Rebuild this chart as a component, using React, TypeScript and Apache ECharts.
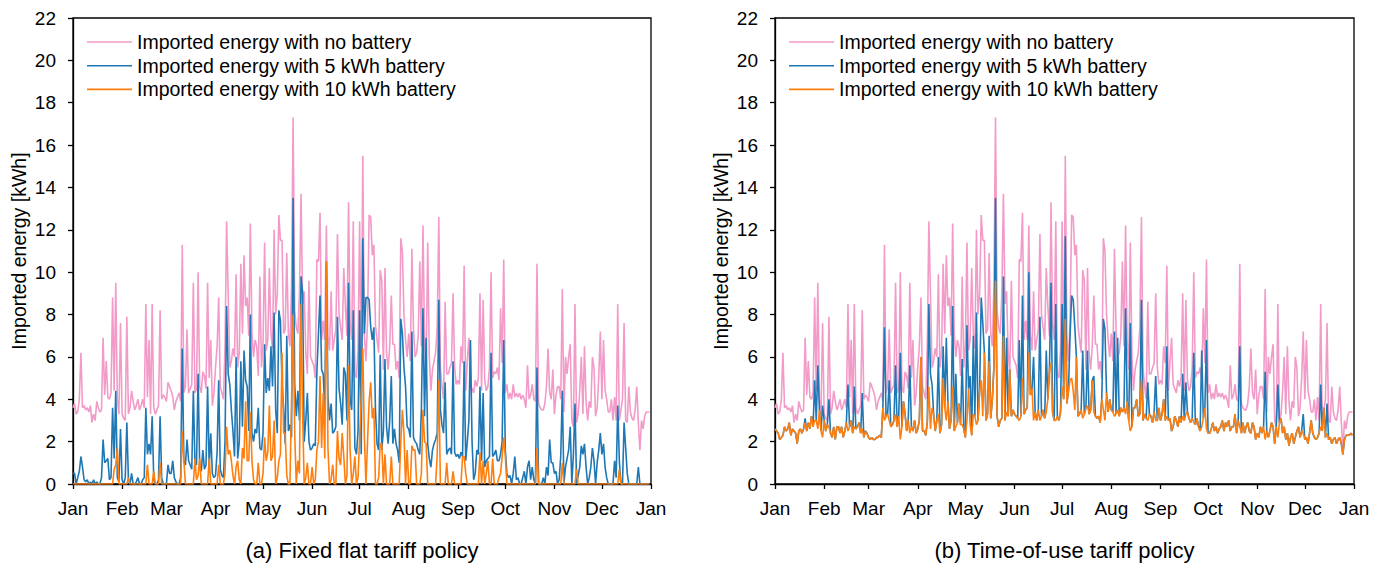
import React, { useEffect, useRef } from "react";
import * as echarts from "echarts";

const monthLabels = ["Jan", "Feb", "Mar", "Apr", "May", "Jun", "Jul", "Aug", "Sep", "Oct", "Nov", "Dec", "Jan"];
const monthStartDays = [0, 31, 59, 90, 120, 151, 181, 212, 243, 273, 304, 334, 365];
const seriesNames = [
  "Imported energy with no battery",
  "Imported energy with 5 kWh battery",
  "Imported energy with 10 kWh battery",
];
const panelTitles = ["(a) Fixed flat tariff policy", "(b) Time-of-use tariff policy"];
const yAxisName = "Imported energy [kWh]";

// Daily imported energy [kWh], day 0 = 1 Jan
const noBattery = [
  3.6,
  3.8, 3.3, 3.4, 4.0, 6.2, 3.6, 3.7, 3.5, 3.6, 3.4,
  3.7, 2.9, 3.3, 3.0, 3.9, 3.6, 3.4, 3.5, 6.9, 4.2,
  5.8, 4.1, 4.0, 4.3, 8.8, 4.4, 9.5, 4.0, 3.3, 7.6,
  3.3, 3.1, 3.0, 7.9, 3.3, 3.6, 4.4, 3.9, 3.5, 3.7,
  4.0, 3.5, 3.7, 4.0, 3.6, 8.5, 4.1, 6.8, 3.3, 8.5,
  3.6, 3.3, 3.5, 3.7, 8.2, 4.0, 4.2, 4.1, 3.9, 4.8,
  4.6, 4.4, 4.1, 3.5, 3.9, 4.1, 4.3, 3.9, 11.3, 4.3,
  4.6, 7.3, 4.3, 4.5, 4.7, 9.5, 4.3, 4.5, 10.0, 4.6,
  4.3, 5.3, 5.1, 4.5, 9.5, 5.0, 6.8, 3.7, 4.3, 5.5,
  6.5, 8.8, 4.6, 4.3, 4.0, 6.5, 12.4, 9.0, 5.5, 5.8,
  6.4, 6.0, 9.9, 5.5, 6.2, 10.4, 7.1, 10.8, 8.4, 8.8,
  7.0, 12.3, 7.1, 6.0, 6.8, 6.5, 5.1, 9.8, 5.5, 6.6,
  11.4, 6.3, 6.8, 10.2, 7.1, 6.4, 12.0, 8.0, 9.0, 12.7,
  11.5, 11.5, 7.1, 7.3, 10.9, 7.1, 6.5, 9.3, 17.3, 8.2,
  7.4, 7.1, 9.0, 13.7, 8.5, 9.1, 6.2, 5.2, 9.6, 6.0,
  5.8, 5.6, 5.0, 10.6, 10.5, 12.8, 6.8, 7.7, 6.8, 12.2,
  7.0, 6.3, 9.1, 6.3, 6.8, 7.3, 11.8, 8.0, 7.4, 6.8,
  10.2, 8.4, 7.0, 13.3, 7.5, 6.8, 12.4, 5.2, 5.0, 6.4,
  12.4, 5.0, 15.5, 7.0, 5.8, 7.7, 12.7, 12.6, 10.8, 11.3,
  7.5, 6.8, 6.2, 10.1, 9.6, 5.4, 10.2, 6.2, 5.4, 6.5,
  8.9, 6.6, 6.6, 5.4, 5.8, 5.0, 11.6, 11.0, 8.0, 6.8,
  6.0, 7.1, 5.8, 11.1, 7.3, 6.0, 6.2, 7.0, 10.5, 6.5,
  12.2, 6.8, 5.4, 11.4, 6.0, 4.4, 5.4, 5.8, 6.2, 7.4,
  12.6, 5.5, 4.6, 4.0, 8.6, 5.2, 5.2, 5.5, 5.7, 9.0,
  5.5, 4.7, 4.9, 4.7, 6.5, 5.7, 10.3, 4.4, 5.8, 6.9,
  4.7, 4.5, 4.3, 4.9, 4.6, 5.0, 9.0, 4.4, 8.7, 4.9,
  4.4, 4.6, 5.5, 10.0, 5.0, 5.3, 5.2, 5.5, 4.9, 8.3,
  5.7, 10.6, 4.3, 4.7, 4.0, 4.3, 4.0, 4.7, 4.1, 4.3,
  4.1, 4.3, 4.0, 4.2, 4.0, 3.6, 5.6, 4.0, 4.2, 4.7,
  4.0, 3.9, 10.4, 3.8, 3.6, 3.5, 3.5, 3.8, 4.6, 6.4,
  4.3, 4.0, 5.4, 3.3, 4.2, 4.6, 4.6, 4.0, 9.2, 3.4,
  6.0, 5.2, 6.0, 6.6, 3.0, 2.7, 8.5, 2.9, 3.3, 4.4,
  6.0, 3.3, 6.5, 3.9, 3.0, 3.9, 3.6, 6.0, 5.5, 3.2,
  3.6, 5.0, 7.2, 4.0, 6.8, 4.4, 4.0, 3.4, 3.4, 4.0,
  3.0, 4.1, 3.0, 8.5, 3.0, 3.5, 4.0, 7.6, 3.0, 2.9,
  4.6, 3.4, 3.1, 3.0, 3.5, 4.6, 2.9, 1.6, 3.0, 2.6,
  3.2, 3.4, 3.4, 3.4,
];

const battery5Flat = [
  0.5,
  0.5, 0.0, 0.3, 0.6, 1.3, 0.8, 0.2, 0.1, 0.2, 0.0,
  0.1, 0.0, 0.2, 0.0, 0.1, 0.0, 0.0, 0.3, 2.1, 1.0,
  1.1, 1.2, 0.2, 0.3, 3.6, 1.2, 4.4, 0.3, 0.1, 2.6,
  0.2, 0.0, 0.3, 2.9, 0.2, 0.0, 0.5, 0.0, 0.0, 0.1,
  0.3, 0.0, 0.0, 0.2, 0.3, 3.6, 1.4, 1.9, 1.4, 3.2,
  0.2, 0.0, 0.0, 0.2, 3.2, 0.3, 0.0, 0.0, 0.0, 0.9,
  0.5, 0.5, 1.1, 0.3, 0.1, 0.0, 0.0, 0.3, 6.4, 1.1,
  0.9, 2.1, 1.1, 0.9, 0.7, 4.4, 1.0, 0.9, 5.2, 0.8,
  0.6, 1.6, 0.7, 0.9, 4.6, 0.8, 2.4, 0.5, 0.3, 0.4,
  1.5, 4.9, 0.7, 0.4, 0.3, 2.0, 8.4, 5.2, 4.7, 3.5,
  2.5, 1.3, 6.0, 1.2, 2.0, 5.8, 2.7, 6.3, 4.9, 4.6,
  2.5, 8.0, 2.4, 2.0, 2.6, 2.4, 3.6, 1.7, 1.6, 2.4,
  6.6, 4.3, 5.0, 4.4, 6.5, 4.6, 8.1, 3.5, 2.4, 8.2,
  7.7, 4.7, 3.6, 1.9, 7.0, 2.5, 2.8, 2.2, 13.5, 4.7,
  3.2, 4.4, 3.0, 9.8, 9.0, 2.0, 3.0, 4.3, 2.0, 1.6,
  1.7, 1.9, 1.8, 5.3, 7.1, 8.9, 5.4, 5.2, 3.5, 10.5,
  4.1, 3.0, 3.8, 2.4, 2.5, 2.7, 7.9, 4.5, 3.8, 2.8,
  5.5, 5.2, 3.0, 9.5, 4.0, 3.5, 8.2, 1.7, 1.4, 2.5,
  8.2, 1.4, 11.6, 7.1, 8.8, 8.8, 8.7, 7.4, 6.8, 7.4,
  3.5, 1.9, 1.6, 6.1, 1.6, 2.5, 5.9, 2.7, 1.9, 3.0,
  5.1, 1.9, 2.6, 1.9, 1.6, 1.0, 7.8, 7.1, 5.5, 4.6,
  2.7, 2.6, 2.2, 7.2, 2.2, 2.0, 1.9, 1.6, 1.4, 3.5,
  8.3, 3.2, 6.9, 1.9, 1.2, 0.8, 1.6, 1.9, 2.1, 2.4,
  8.7, 3.5, 2.8, 2.4, 4.8, 1.4, 1.6, 1.7, 1.4, 5.8,
  1.5, 1.3, 1.4, 1.2, 1.5, 1.3, 5.8, 1.1, 2.0, 3.0,
  6.8, 2.0, 0.2, 0.5, 1.6, 1.4, 4.6, 1.1, 4.3, 0.8,
  1.1, 1.2, 1.3, 6.2, 1.3, 1.4, 1.6, 1.1, 1.1, 1.4,
  2.0, 6.8, 1.6, 0.5, 0.3, 0.4, 0.0, 0.5, 1.3, 0.2,
  0.3, 0.0, 0.0, 0.3, 0.6, 0.0, 0.8, 1.1, 0.2, 0.8,
  0.2, 0.0, 5.5, 0.0, 0.0, 0.0, 0.3, 0.0, 0.8, 0.4,
  2.1, 1.0, 1.0, 0.5, 0.6, 0.0, 0.2, 1.3, 4.4, 0.0,
  0.8, 1.2, 1.6, 2.7, 0.0, 1.4, 3.8, 0.0, 0.4, 0.8,
  1.8, 1.4, 1.9, 0.8, 0.0, 0.3, 0.8, 1.7, 1.1, 0.0,
  1.0, 1.6, 2.4, 1.4, 1.9, 0.8, 0.3, 0.0, 0.0, 0.0,
  0.0, 1.1, 0.3, 3.7, 1.1, 0.0, 0.0, 2.9, 1.7, 0.5,
  0.0, 0.0, 0.0, 0.0, 0.0, 0.0, 0.8, 0.0, 0.0, 0.0,
  0.0, 0.0, 0.0, 0.0,
];

const battery10Flat = [
  0,
  0, 0, 0, 0, 0, 0, 0, 0, 0, 0,
  0, 0, 0, 0, 0, 0, 0, 0, 0, 0,
  0, 0, 0, 0, 0, 0.7, 0.9, 1.7, 0, 0,
  0, 0, 0, 0, 0.3, 0, 0, 0, 0, 0,
  0, 0, 0, 0, 0, 0, 0.9, 0, 0, 0,
  0.6, 0, 0, 0, 1.0, 0, 0, 0, 0, 0,
  0, 0, 0, 0, 0, 0, 0, 0, 2.5, 1.1,
  0, 0, 0, 0, 0, 0, 1.2, 0.2, 0.4, 1.2,
  0, 0, 0, 0, 0, 1.2, 0, 0, 0, 0,
  0, 0.9, 0, 0, 0, 0.5, 2.7, 1.4, 1.6, 1.1,
  0.4, 0, 0.8, 1.1, 0.2, 0, 1.7, 1.2, 3.9, 1.1,
  1.1, 3.4, 1.1, 0.2, 0, 0, 1.0, 0, 0, 0.5,
  2.2, 1.1, 1.5, 3.7, 1.1, 1.3, 3.0, 0, 0.3, 1.1,
  1.4, 6.2, 2.4, 2.4, 0.4, 0, 0, 3.9, 8.0, 2.4,
  0, 1.1, 0.5, 8.5, 3.3, 0, 0.3, 1.0, 0, 0,
  0.8, 0, 0.2, 1.6, 2.0, 5.1, 1.7, 4.3, 1.2, 10.5,
  1.7, 0, 0.2, 0.9, 0, 0, 2.5, 1.2, 0.9, 2.4,
  1.3, 0, 0.4, 5.6, 1.6, 0, 0.5, 1.3, 0, 0.3,
  2.2, 4.1, 6.4, 2.2, 0, 2.0, 3.9, 4.8, 3.1, 3.6,
  0, 0, 0.3, 1.9, 1.9, 0, 1.4, 0, 0, 0,
  1.3, 0, 0, 0, 0, 0, 2.0, 3.5, 2.4, 0,
  1.6, 0, 0, 1.8, 1.6, 1.6, 0, 0, 0, 0.5,
  3.5, 2.0, 1.9, 0, 0, 0, 0, 0, 0, 1.4,
  4.9, 0, 0, 0, 0, 1.0, 0, 0, 0, 0.6,
  0, 0, 0, 0, 0, 1.3, 1.3, 0.5, 0, 0,
  0, 0, 0, 0, 0, 0, 1.5, 0, 1.1, 0,
  0.5, 1.1, 0, 0, 1.2, 0, 0, 0, 0.3, 0.5,
  1.3, 2.2, 1.3, 0, 0, 0, 0, 0, 0, 0,
  0, 0, 0, 0, 0, 0, 0, 0, 0, 0,
  0, 0, 1.7, 0, 0, 0, 0, 0, 0, 0,
  0, 0, 0, 0, 0, 0, 0, 0, 1.0, 0,
  0, 0, 0, 0, 0, 0, 0, 0.7, 0, 0,
  0, 0, 0, 0, 0, 0, 0, 0, 0, 0,
  0, 0, 0, 0, 0, 0, 0, 0, 0, 0,
  0, 0, 0, 0, 0.7, 0, 0, 0, 0, 0,
  0, 0, 0, 0, 0, 0, 0, 0, 0, 0,
  0, 0, 0, 0,
];

const battery5Tou = [
  2.6,
  2.5, 2.4, 2.1, 2.2, 2.3, 2.7, 2.5, 2.6, 2.9, 2.3,
  2.6, 2.5, 2.4, 1.9, 2.5, 2.6, 2.4, 2.6, 3.1, 2.5,
  2.9, 2.6, 3.2, 2.7, 4.9, 3.0, 5.6, 3.5, 2.5, 3.7,
  3.0, 2.5, 2.8, 4.0, 2.4, 2.2, 2.7, 2.1, 2.7, 2.7,
  2.4, 2.7, 2.2, 2.5, 2.9, 4.7, 2.7, 3.0, 2.4, 4.6,
  2.6, 2.7, 2.9, 2.4, 4.3, 2.2, 2.5, 2.4, 2.2, 2.1,
  2.2, 2.1, 2.1, 2.2, 2.2, 2.3, 2.2, 3.6, 7.4, 3.2,
  3.3, 4.9, 2.7, 2.8, 3.0, 5.6, 2.7, 3.2, 6.2, 2.7,
  3.9, 3.3, 2.5, 3.0, 5.6, 2.7, 2.5, 3.0, 2.4, 2.6,
  3.0, 6.0, 2.5, 2.5, 2.3, 2.9, 8.5, 5.2, 4.7, 3.3,
  2.5, 3.0, 6.0, 2.4, 2.8, 6.5, 3.6, 6.9, 3.9, 2.6,
  3.0, 8.4, 2.5, 5.2, 2.9, 3.8, 2.8, 5.9, 2.6, 2.2,
  7.5, 4.5, 5.1, 2.3, 7.0, 3.2, 8.1, 3.0, 4.4, 8.8,
  7.6, 6.2, 3.0, 3.3, 7.0, 3.1, 4.0, 5.5, 13.5, 3.2,
  2.7, 3.0, 3.1, 9.8, 3.0, 6.9, 3.2, 5.4, 3.2, 3.5,
  3.3, 3.2, 3.1, 6.8, 3.2, 8.9, 3.3, 3.5, 3.6, 10.0,
  4.2, 4.5, 6.0, 3.4, 3.0, 3.5, 7.9, 3.2, 3.5, 3.1,
  6.3, 4.0, 5.4, 9.5, 3.4, 3.0, 8.5, 3.2, 3.0, 3.4,
  8.5, 4.0, 11.7, 3.8, 4.4, 7.0, 8.9, 8.7, 7.4, 6.0,
  3.2, 3.3, 3.5, 6.3, 3.3, 3.6, 6.3, 3.3, 3.5, 4.9,
  5.1, 3.2, 3.1, 3.2, 2.9, 4.0, 7.8, 7.3, 4.3, 3.4,
  4.0, 3.5, 3.4, 7.2, 3.3, 6.9, 3.2, 3.6, 3.4, 3.6,
  8.3, 3.9, 3.0, 7.6, 2.7, 3.6, 3.6, 4.0, 3.2, 3.3,
  8.7, 3.0, 3.3, 3.1, 4.8, 3.3, 3.2, 2.9, 3.4, 5.1,
  3.0, 3.6, 3.0, 3.3, 4.0, 3.0, 6.5, 3.0, 3.1, 2.5,
  2.7, 3.2, 3.0, 2.7, 3.2, 2.9, 5.2, 3.0, 4.8, 3.4,
  3.1, 2.9, 3.1, 6.2, 2.8, 3.1, 2.7, 2.5, 6.3, 3.1,
  3.6, 6.8, 2.4, 2.4, 2.6, 2.9, 2.5, 2.7, 2.4, 2.6,
  2.7, 3.0, 2.5, 2.9, 2.7, 3.0, 2.5, 2.7, 2.7, 3.3,
  2.4, 3.0, 6.5, 2.4, 2.9, 2.4, 2.7, 2.9, 2.5, 2.4,
  2.9, 2.7, 2.1, 2.4, 2.2, 2.7, 2.4, 2.7, 5.3, 2.5,
  2.2, 2.5, 2.9, 2.7, 1.9, 2.7, 4.7, 2.9, 3.1, 2.4,
  2.7, 2.1, 2.4, 1.8, 2.2, 2.4, 1.9, 2.2, 2.5, 2.7,
  2.2, 2.5, 3.3, 2.1, 2.2, 1.9, 2.4, 3.0, 2.4, 2.2,
  2.1, 2.2, 2.4, 4.7, 2.5, 3.6, 2.2, 3.8, 2.1, 2.2,
  1.9, 2.1, 2.2, 1.9, 2.1, 2.2, 1.9, 1.4, 2.1, 2.3,
  2.3, 2.3, 2.4, 2.3,
];

const battery10Tou = [
  2.6,
  2.5, 2.4, 2.1, 2.2, 2.3, 2.7, 2.5, 2.6, 2.9, 2.3,
  2.6, 2.5, 2.4, 1.9, 2.5, 2.6, 2.4, 2.6, 2.9, 2.5,
  2.9, 2.6, 3.2, 2.7, 3.0, 3.0, 2.6, 3.5, 2.5, 2.2,
  3.0, 2.5, 2.8, 2.7, 2.4, 2.2, 2.7, 2.1, 2.7, 2.7,
  2.4, 2.7, 2.2, 2.5, 2.9, 2.5, 2.7, 3.0, 2.4, 2.7,
  2.6, 2.7, 2.9, 2.4, 2.6, 2.2, 2.5, 2.4, 2.2, 2.1,
  2.2, 2.1, 2.1, 2.2, 2.2, 2.3, 2.2, 3.6, 3.0, 3.2,
  3.3, 3.0, 2.7, 2.8, 3.0, 3.3, 2.7, 3.2, 2.1, 2.7,
  3.9, 3.3, 2.5, 3.0, 2.4, 2.7, 2.5, 3.0, 2.4, 2.6,
  3.0, 6.0, 2.5, 2.5, 2.3, 2.9, 4.6, 2.6, 3.6, 3.3,
  2.5, 3.0, 3.3, 2.4, 2.8, 5.0, 3.6, 3.0, 3.9, 2.6,
  3.0, 4.6, 2.5, 2.7, 2.9, 3.8, 2.8, 2.8, 2.6, 2.2,
  3.0, 4.5, 2.8, 2.3, 3.3, 3.2, 2.8, 3.0, 4.4, 4.9,
  3.2, 6.2, 3.0, 3.3, 5.8, 3.1, 4.0, 5.5, 9.6, 3.2,
  2.7, 3.0, 3.1, 7.0, 3.0, 3.4, 3.2, 5.4, 3.2, 3.5,
  3.3, 3.2, 3.1, 3.0, 3.2, 5.0, 3.3, 3.5, 3.6, 6.2,
  4.2, 4.5, 3.0, 3.4, 3.0, 3.5, 3.0, 3.2, 3.5, 3.1,
  3.4, 4.0, 5.4, 5.7, 3.4, 3.0, 3.0, 3.2, 3.0, 3.4,
  4.6, 4.0, 7.8, 3.8, 4.4, 4.9, 5.0, 4.4, 3.5, 6.0,
  3.2, 3.3, 3.5, 3.1, 3.3, 3.6, 3.7, 3.3, 3.5, 4.9,
  3.4, 3.2, 3.1, 3.2, 2.9, 4.0, 3.5, 3.0, 4.3, 3.4,
  4.0, 3.5, 3.4, 3.2, 3.3, 3.5, 3.2, 3.6, 3.4, 3.6,
  3.3, 3.9, 3.0, 2.5, 2.7, 3.6, 3.6, 4.0, 3.2, 3.3,
  4.9, 3.0, 3.3, 3.1, 3.0, 3.3, 3.2, 2.9, 3.4, 3.0,
  3.0, 3.6, 3.0, 3.3, 4.0, 3.0, 3.2, 3.0, 3.1, 2.5,
  2.7, 3.2, 3.0, 2.7, 3.2, 2.9, 3.2, 3.0, 3.3, 3.4,
  3.1, 2.9, 3.1, 2.9, 2.8, 3.1, 2.7, 2.5, 2.7, 3.1,
  3.6, 2.6, 2.4, 2.4, 2.6, 2.9, 2.5, 2.7, 2.4, 2.6,
  2.7, 3.0, 2.5, 2.9, 2.7, 3.0, 2.5, 2.7, 2.7, 3.3,
  2.4, 3.0, 2.7, 2.4, 2.9, 2.4, 2.7, 2.9, 2.5, 2.4,
  2.9, 2.7, 2.1, 2.4, 2.2, 2.7, 2.4, 2.7, 2.1, 2.5,
  2.2, 2.5, 2.9, 2.7, 1.9, 2.7, 2.2, 2.9, 3.1, 2.4,
  2.7, 2.1, 2.4, 1.8, 2.2, 2.4, 1.9, 2.2, 2.5, 2.7,
  2.2, 2.5, 2.4, 2.1, 2.2, 1.9, 2.4, 3.0, 2.4, 2.2,
  2.1, 2.2, 2.4, 2.7, 2.5, 3.6, 2.2, 2.4, 2.1, 2.2,
  1.9, 2.1, 2.2, 1.9, 2.1, 2.2, 1.9, 1.4, 2.1, 2.3,
  2.3, 2.3, 2.4, 2.3,
];

const colors = ["#f29bc8", "#1f77b4", "#ff7f0e"];
const FONT = "'Liberation Sans', Arial, Helvetica, sans-serif";

function toPoints(arr: number[]) {
  return arr.map((v, i) => [i, v]);
}

export default function App() {
  const ref = useRef<HTMLDivElement>(null);

  useEffect(() => {
    document.body.style.margin = "0";
    if (!ref.current) return;
    const chart = echarts.init(ref.current, undefined, { renderer: "svg" });

    const grids = [
      { left: 73, top: 18, width: 578, height: 466 },
      { left: 775, top: 18, width: 579, height: 466 },
    ];
    const panels = [
      [noBattery, battery5Flat, battery10Flat],
      [noBattery, battery5Tou, battery10Tou],
    ];

    const axisLineStyle = { color: "#000", width: 1.3 };

    const option: any = {
      animation: false,
      textStyle: { fontFamily: FONT },
      grid: grids.map((g) => ({
        ...g,
        show: true,
        borderColor: "#000",
        borderWidth: 1.3,
        backgroundColor: "transparent",
        containLabel: false,
      })),
      legend: grids.map((g) => ({
        data: seriesNames,
        left: g.left + 14,
        top: 32,
        orient: "vertical",
        itemWidth: 45,
        itemHeight: 1.6,
        itemGap: 3.7,
        padding: 0,
        icon: "rect",
        textStyle: { fontSize: 19.5, color: "#000", fontFamily: FONT, lineHeight: 20 },
      })),
      xAxis: grids.map((_, gi) => ({
        type: "value",
        gridIndex: gi,
        min: 0,
        max: 365,
        splitLine: { show: false },
        axisLine: { show: true, lineStyle: axisLineStyle },
        axisTick: {
          show: true,
          length: 5,
          lineStyle: axisLineStyle,
          customValues: monthStartDays,
        },
        axisLabel: {
          show: true,
          customValues: monthStartDays,
          fontSize: 19,
          color: "#000",
          margin: 15,
          fontFamily: FONT,
          formatter: (val: number) => {
            const idx = monthStartDays.indexOf(Math.round(val));
            return idx >= 0 ? monthLabels[idx] : "";
          },
        },
      })),
      yAxis: grids.map((_, gi) => ({
        type: "value",
        gridIndex: gi,
        min: 0,
        max: 22,
        interval: 2,
        name: yAxisName,
        nameLocation: "middle",
        nameGap: 44,
        nameTextStyle: { fontSize: 19.5, color: "#000", fontFamily: FONT },
        splitLine: { show: false },
        axisLine: { show: true, lineStyle: axisLineStyle },
        axisTick: { show: true, length: 5, lineStyle: axisLineStyle },
        axisLabel: { fontSize: 19, color: "#000", margin: 17, fontFamily: FONT },
      })),
      series: panels.flatMap((arrs, gi) =>
        arrs.map((arr, si) => ({
          name: seriesNames[si],
          type: "line",
          xAxisIndex: gi,
          yAxisIndex: gi,
          data: toPoints(arr),
          showSymbol: false,
          symbol: "none",
          color: colors[si],
          lineStyle: { color: colors[si], width: 1.6 },
          z: 2 + si,
        }))
      ),
      graphic: grids.map((g, gi) => ({
        type: "text",
        x: g.left + g.width / 2,
        y: 550,
        style: {
          text: panelTitles[gi],
          fontSize: 22,
          fontFamily: FONT,
          fill: "#000",
          textAlign: "center",
          textVerticalAlign: "middle",
        },
      })),
    };

    chart.setOption(option);
    return () => {
      chart.dispose();
    };
  }, []);

  return <div ref={ref} style={{ width: 1384, height: 566 }} />;
}
